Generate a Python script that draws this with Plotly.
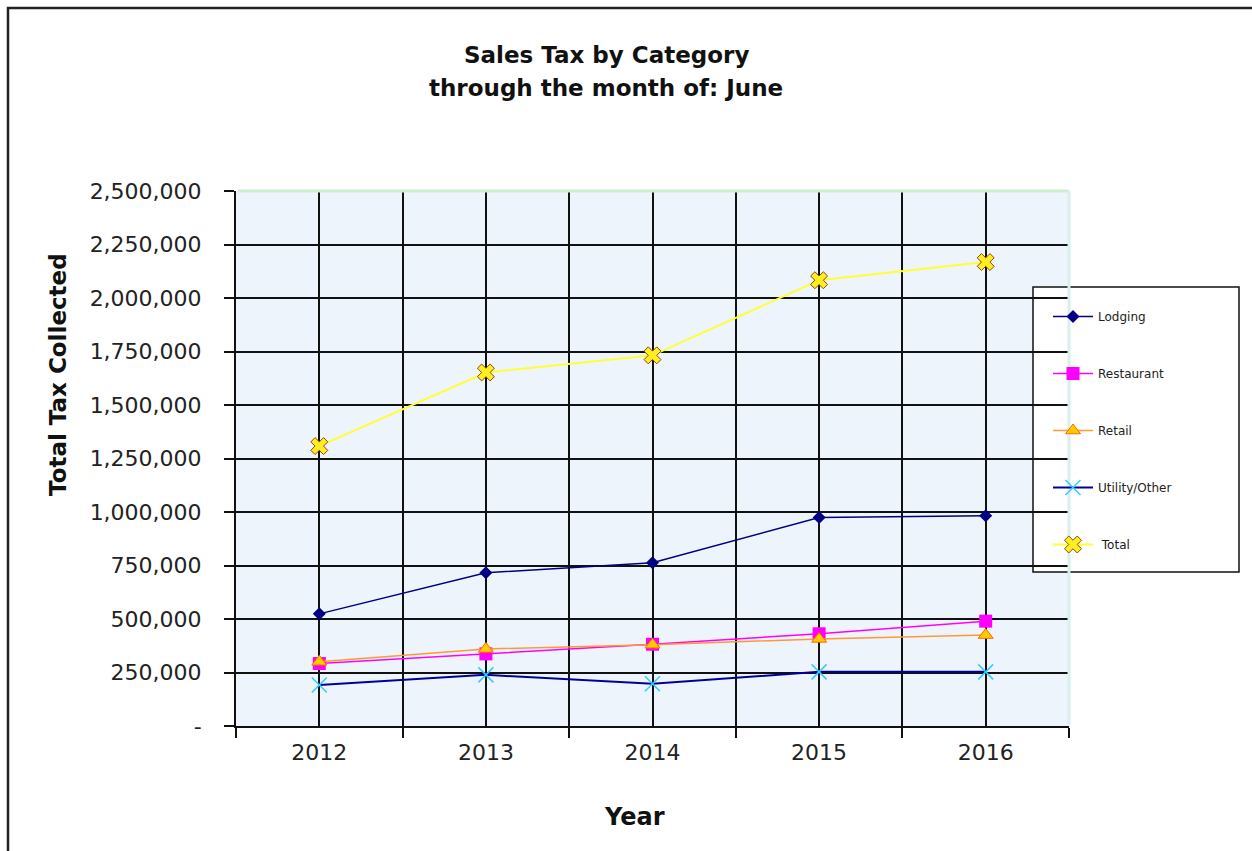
import plotly.graph_objects as go

# Sales tax collected through June, by category
years = [2012, 2013, 2014, 2015, 2016]
lodging = [524000, 716000, 763000, 974000, 983000]
restaurant = [292000, 337000, 382000, 431000, 490000]
retail = [300000, 360000, 380000, 407000, 425000]
utility_other = [192000, 239000, 197000, 253000, 253000]
total = [1308000, 1652000, 1732000, 2083000, 2168000]

y_ticks = [0, 250000, 500000, 750000, 1000000, 1250000, 1500000,
           1750000, 2000000, 2250000, 2500000]
y_tick_text = ["-"] + [f"{v:,}" for v in y_ticks[1:]]

W, H = 1252, 851
L, R, T, B = 236, 1069, 191, 726  # plot area edges in pixels


def px(x):
    return (x - L) / (R - L)


def py(y):
    return (B - y) / (B - T)


FONT = "DejaVu Sans, Arial, sans-serif"

fig = go.Figure()

series = [
    ("Lodging", lodging, dict(color="#000080", width=1.5),
     dict(symbol="diamond", size=10, color="#000080")),
    ("Restaurant", restaurant, dict(color="#FF00FF", width=1.5),
     dict(symbol="square", size=13, color="#FF00FF")),
    ("Retail", retail, dict(color="#FF9933", width=1.5),
     dict(symbol="triangle-up", size=13, color="#FFCC00",
          line=dict(color="#FF6600", width=1))),
    ("Utility/Other", utility_other, dict(color="#000099", width=2),
     dict(symbol="x-thin-open", size=15, color="#33CCFF",
          line=dict(color="#33CCFF", width=1.5))),
    (" Total", total, dict(color="#FFFF33", width=2),
     dict(symbol="x", size=15, color="#FFEE22",
          line=dict(color="#8B4513", width=1))),
]

for i, (name, vals, line, marker) in enumerate(series):
    fig.add_trace(go.Scatter(
        x=years, y=vals, name=name, mode="lines+markers",
        line=line, marker=marker, legendgroup=f"g{i}",
    ))

fig.update_layout(
    width=W, height=H,
    margin=dict(l=L, r=W - R, t=T, b=H - B, pad=0),
    paper_bgcolor="white",
    plot_bgcolor="#EEF4FB",
    font=dict(family=FONT, color="#111"),
    showlegend=True,
    legend=dict(
        x=px(1048), y=py(302), xanchor="left", yanchor="top",
        bgcolor="rgba(0,0,0,0)", borderwidth=0,
        font=dict(family=FONT, size=12, color="#222"),
        tracegroupgap=38, itemwidth=40,
    ),
    xaxis=dict(
        range=[2011.5, 2016.5], tickvals=years,
        ticktext=[str(y) for y in years],
        ticks="", showgrid=True, gridcolor="#111", gridwidth=2,
        showline=True, linecolor="#111", linewidth=2,
        tickfont=dict(family=FONT, size=22, color="#222"),
        ticklabelstandoff=6,
        zeroline=False,
        minor=dict(tickvals=[2011.5, 2012.5, 2013.5, 2014.5, 2015.5, 2016.5],
                   ticks="outside", ticklen=10, tickwidth=2, tickcolor="#111",
                   showgrid=True, gridcolor="#111", gridwidth=2),
    ),
    yaxis=dict(
        range=[0, 2500000], tickvals=y_ticks, ticktext=y_tick_text,
        ticks="outside", ticklen=10, tickwidth=2, tickcolor="#111",
        showgrid=True, gridcolor="#111", gridwidth=2,
        showline=True, linecolor="#111", linewidth=2,
        tickfont=dict(family=FONT, size=22, color="#222"),
        ticklabelstandoff=18,
        zeroline=False,
    ),
)

shapes = [
    # light top and right edges of the plot area
    dict(type="line", xref="paper", yref="paper", x0=0.002, x1=1, y0=1, y1=1,
         line=dict(color="#CDEFD0", width=3), layer="above"),
    dict(type="line", xref="paper", yref="paper", x0=1, x1=1, y0=0.003, y1=1,
         line=dict(color="#D6F0EE", width=3), layer="above"),
    # legend frame
    dict(type="rect", xref="paper", yref="paper",
         x0=px(1033), x1=px(1239), y0=py(572), y1=py(287),
         line=dict(color="#111", width=1.5), fillcolor="white", layer="below"),
    # outer chart frame
    dict(type="rect", xref="paper", yref="paper",
         x0=px(8), x1=px(1270), y0=py(870), y1=py(8),
         line=dict(color="#222", width=2.5), fillcolor="rgba(0,0,0,0)",
         layer="below"),
]
fig.update_layout(shapes=shapes)

annotations = [
    dict(text="<b>Sales Tax by Category</b>", x=px(606), y=py(55), size=23),
    dict(text="<b>through the month of: June</b>", x=px(606), y=py(88), size=23),
    dict(text="<b>Total Tax Collected</b>", x=px(58), y=py(375), size=23,
         textangle=-90),
    dict(text="<b>Year</b>", x=px(634), y=py(817), size=24),
]
for a in annotations:
    size = a.pop("size")
    fig.add_annotation(xref="paper", yref="paper", showarrow=False,
                       xanchor="center", yanchor="middle",
                       font=dict(family=FONT, size=size, color="#111"), **a)

fig.write_html("out.html")
